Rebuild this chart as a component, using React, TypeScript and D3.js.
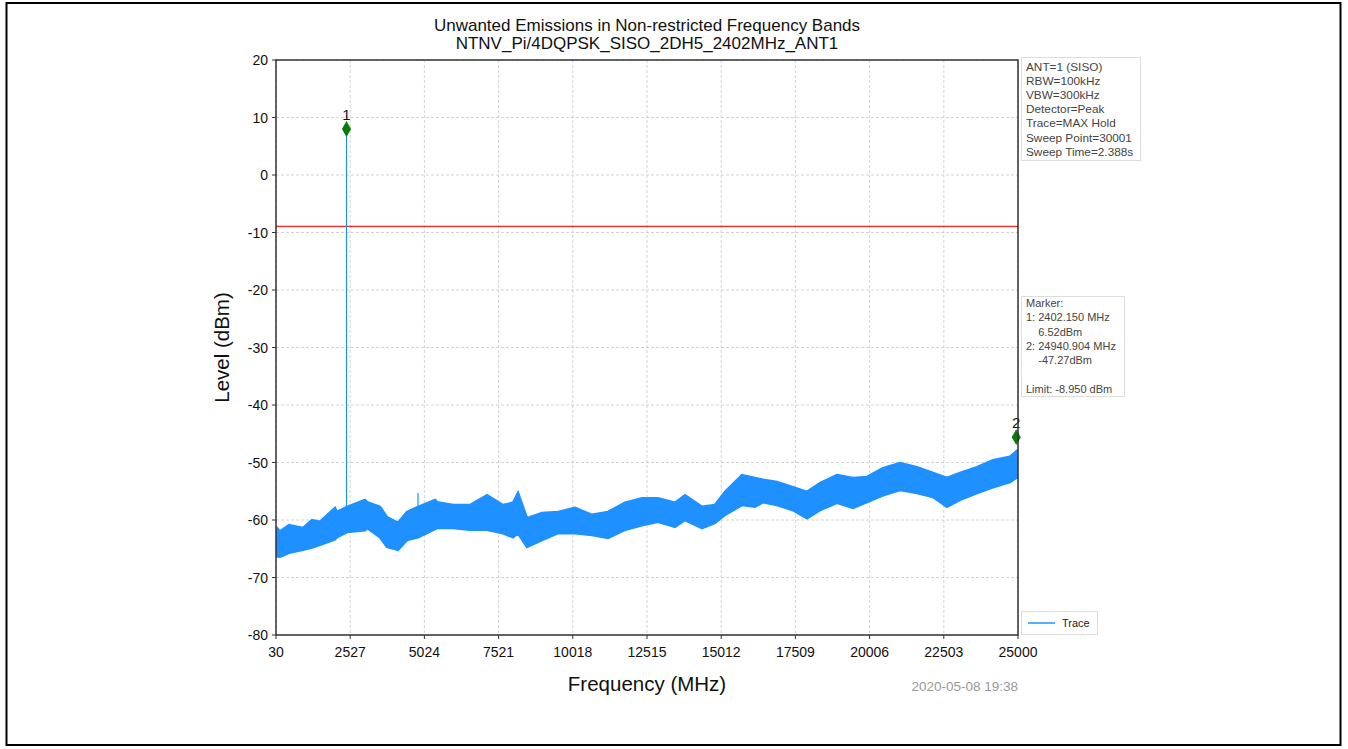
import React from "react";
import * as d3 from "d3";

const titleLines = ["Unwanted Emissions in Non-restricted Frequency Bands", "NTNV_Pi/4DQPSK_SISO_2DH5_2402MHz_ANT1"];
const xTicks = [30, 2527, 5024, 7521, 10018, 12515, 15012, 17509, 20006, 22503, 25000];
const yTicks = [20, 10, 0, -10, -20, -30, -40, -50, -60, -70, -80];

// Trace envelope (MHz, dBm)
const freqMHz = [30, 165, 468, 939, 1242, 1511, 2015, 2083, 2420, 3025, 3092, 3530, 3765, 4136, 4438, 4809, 5381, 5448, 5987, 6558, 7131, 7669, 8006, 8174, 8477, 8982, 9520, 10092, 10664, 11202, 11775, 12347, 12885, 13457, 13794, 14366, 14803, 15140, 15712, 16149, 16419, 16890, 17428, 17899, 18337, 18909, 19447, 19918, 20457, 21029, 21601, 22139, 22610, 23048, 23620, 24158, 24730, 25000];
const upperDbm = [-61.2, -62.0, -60.9, -61.4, -60.0, -60.3, -57.9, -58.6, -57.7, -56.5, -56.9, -57.7, -59.5, -60.5, -58.6, -57.7, -56.5, -56.9, -57.4, -57.4, -55.7, -57.4, -57.0, -55.3, -59.7, -58.8, -58.6, -57.9, -59.1, -58.6, -57.0, -56.2, -56.2, -57.0, -55.7, -57.7, -57.4, -55.1, -52.2, -52.7, -53.0, -53.4, -54.3, -55.1, -53.6, -52.2, -52.7, -52.5, -51.0, -50.1, -50.8, -51.8, -52.7, -51.8, -50.8, -49.6, -49.0, -47.8];
const lowerDbm = [-66.3, -66.4, -65.7, -65.2, -64.8, -64.3, -63.4, -63.0, -62.1, -61.8, -61.4, -63.0, -64.7, -65.2, -63.5, -63.0, -61.6, -61.4, -61.4, -61.7, -61.7, -62.3, -63.0, -62.3, -64.7, -63.5, -62.3, -62.3, -62.6, -63.1, -61.7, -60.9, -60.3, -61.2, -60.0, -61.4, -60.5, -59.1, -57.4, -57.7, -56.9, -57.4, -58.3, -59.7, -58.3, -57.0, -57.9, -56.9, -55.7, -54.8, -55.3, -56.0, -57.7, -56.5, -55.3, -54.3, -53.4, -52.5];

const spikeFreqs = [2402.15, 4809];
const spikeTops = [8.0, -55.3];

const markerLabels = ["1", "2"];
const markerFreqs = [2402.15, 24940.904];
const markerLevels = [8.0, -45.6];

const limitDbm = -8.95;

const infoLines = ["ANT=1 (SISO)", "RBW=100kHz", "VBW=300kHz", "Detector=Peak", "Trace=MAX Hold", "Sweep Point=30001", "Sweep Time=2.388s"];
const markerLines = ["Marker:", "1: 2402.150 MHz", "    6.52dBm", "2: 24940.904 MHz", "    -47.27dBm", "", "Limit: -8.950 dBm"];
const timestamp = "2020-05-08 19:38";

const W = 1348, H = 749;
const L = 276, R = 1018, T = 60, B = 635;
const FONT = "'Liberation Sans', Arial, sans-serif";
const BLUE = "#1E90FF";

export default function App() {
  const x = d3.scaleLinear().domain([30, 25000]).range([L, R]);
  const y = d3.scaleLinear().domain([-80, 20]).range([B, T]);
  const idx = freqMHz.map((_, i) => i);
  const areaPath = d3.area<number>()
    .x((i) => x(freqMHz[i]))
    .y0((i) => y(lowerDbm[i]))
    .y1((i) => y(upperDbm[i]))(idx) || "";
  const upLine = d3.line<number>().x((i) => x(freqMHz[i])).y((i) => y(upperDbm[i]))(idx) || "";
  const loLine = d3.line<number>().x((i) => x(freqMHz[i])).y((i) => y(lowerDbm[i]))(idx) || "";
  const diamond = d3.symbol().type(d3.symbolDiamond).size(72)() || "";

  return (
    <svg width={W} height={H} style={{ position: "absolute", left: 0, top: 0 }} fontFamily={FONT}>
      <defs>
        <clipPath id="plotclip">
          <rect x={L} y={T} width={R - L} height={B - T} />
        </clipPath>
      </defs>
      <rect x={0} y={0} width={W} height={H} fill="#fff" />
      <rect x={6.5} y={3} width={1334} height={742} fill="none" stroke="#000" strokeWidth={2} />
      {titleLines.map((t, i) => (
        <text key={i} x={647} y={31 + i * 18} textAnchor="middle" fontSize={17} fill="#111">{t}</text>
      ))}
      {xTicks.map((t) => (
        <line key={"gx" + t} x1={x(t)} x2={x(t)} y1={T} y2={B} stroke="#c8c8c8" strokeWidth={0.8} strokeDasharray="3,2" />
      ))}
      {yTicks.map((t) => (
        <line key={"gy" + t} x1={L} x2={R} y1={y(t)} y2={y(t)} stroke="#c8c8c8" strokeWidth={0.8} strokeDasharray="3,2" />
      ))}
      <line x1={L} x2={R} y1={y(limitDbm)} y2={y(limitDbm)} stroke="#ff2020" strokeWidth={1.3} />
      <g clipPath="url(#plotclip)">
        <path d={areaPath} fill={BLUE} stroke="none" />
        <path d={upLine} fill="none" stroke={BLUE} strokeWidth={2.5} strokeLinejoin="miter" />
        <path d={loLine} fill="none" stroke={BLUE} strokeWidth={2.5} strokeLinejoin="miter" />
        {spikeFreqs.map((f, i) => {
          const j = d3.bisectLeft(freqMHz, f);
          const base = Math.min(upperDbm[Math.max(0, j - 1)], upperDbm[j]);
          return <line key={"sp" + i} x1={x(f)} x2={x(f)} y1={y(base)} y2={y(spikeTops[i])} stroke={BLUE} strokeWidth={1.2} />;
        })}
      </g>
      {markerFreqs.map((f, i) => (
        <g key={"m" + i}>
          <path d={diamond} transform={`translate(${x(f)},${y(markerLevels[i])})`} fill="#0a7a0a" />
          <text x={x(f)} y={y(markerLevels[i]) - 9} textAnchor="middle" fontSize={15} fill="#111">{markerLabels[i]}</text>
        </g>
      ))}
      <rect x={L} y={T} width={R - L} height={B - T} fill="none" stroke="#333" strokeWidth={1.5} />
      {xTicks.map((t) => (
        <g key={"xt" + t}>
          <line x1={x(t)} x2={x(t)} y1={B} y2={B + 4} stroke="#333" />
          <text x={x(t)} y={B + 22} textAnchor="middle" fontSize={14} fill="#111">{t}</text>
        </g>
      ))}
      {yTicks.map((t) => (
        <g key={"yt" + t}>
          <line x1={L - 4} x2={L} y1={y(t)} y2={y(t)} stroke="#333" />
          <text x={L - 8} y={y(t) + 5} textAnchor="end" fontSize={14} fill="#111">{t}</text>
        </g>
      ))}
      <text x={647} y={691} textAnchor="middle" fontSize={20.5} fill="#111">Frequency (MHz)</text>
      <text transform={`translate(229,${(T + B) / 2}) rotate(-90)`} textAnchor="middle" fontSize={20.5} fill="#111">Level (dBm)</text>
      <rect x={1021.5} y={57.5} width={119} height={103} fill="#fff" stroke="#ddd" />
      {infoLines.map((t, i) => (
        <text key={"in" + i} x={1026} y={71 + i * 14.1} fontSize={11.8} fill="#444">{t}</text>
      ))}
      <rect x={1021.5} y={296.5} width={103} height={100} fill="#fff" stroke="#ddd" />
      {markerLines.map((t, i) => (
        <text key={"mk" + i} x={1026} y={307 + i * 14.3} fontSize={11} fill="#444" style={{ whiteSpace: "pre" }}>{t}</text>
      ))}
      <rect x={1021.5} y={611.5} width={76} height={23} fill="#fff" stroke="#ddd" />
      <line x1={1028} x2={1055} y1={623} y2={623} stroke={BLUE} strokeWidth={1.5} />
      <text x={1062} y={627} fontSize={11} fill="#222">Trace</text>
      <text x={1018} y={691} textAnchor="end" fontSize={13.5} fill="#999">{timestamp}</text>
    </svg>
  );
}
